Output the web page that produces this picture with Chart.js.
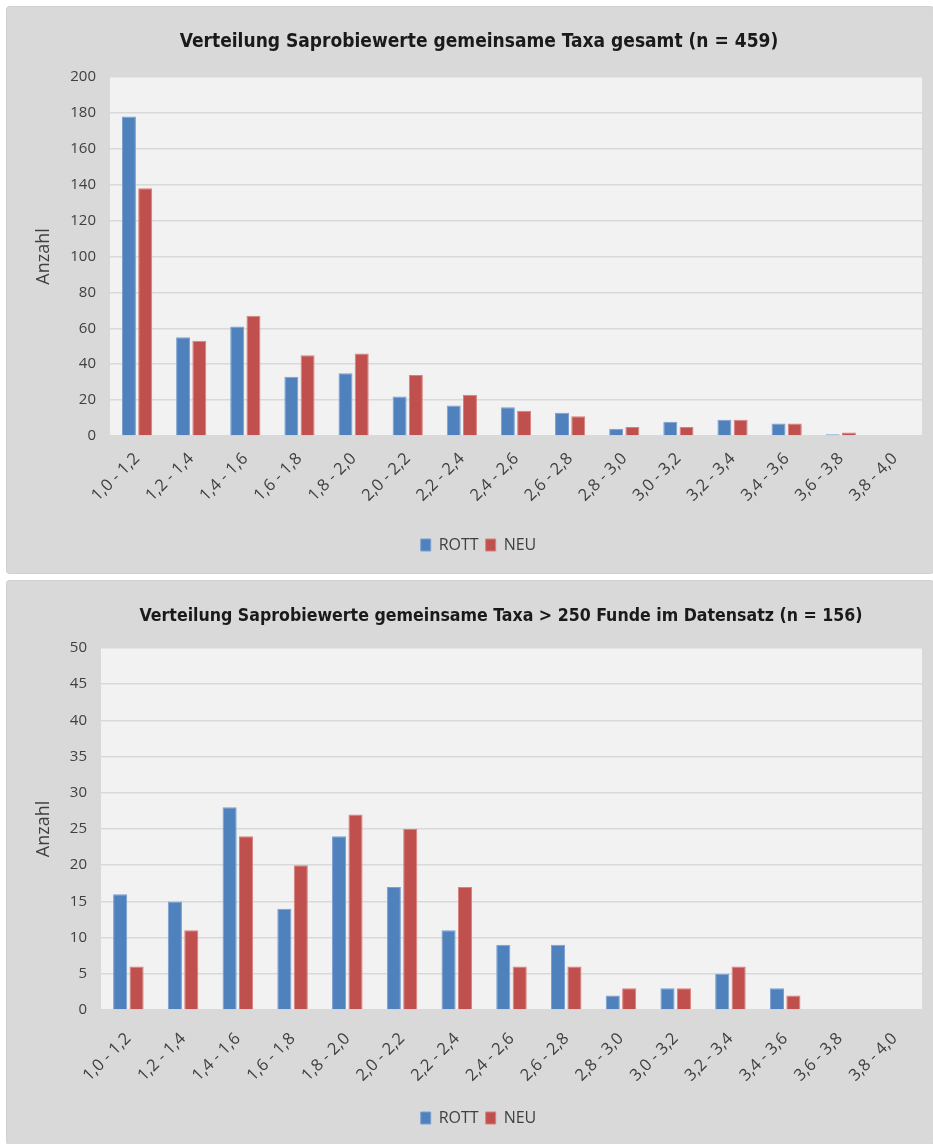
<!DOCTYPE html>
<html>
<head>
<meta charset="utf-8">
<script src="https://cdn.jsdelivr.net/npm/chart.js@4.4.1/dist/chart.umd.min.js"></script>
<style>
  html, body { margin: 0; padding: 0; background: #ffffff; }
  .panel { position: absolute; left: 7px; width: 926px; background: #d9d9d9; border-radius: 3px; box-shadow: 0 0 0 1px #d0d0d0; }
  #p1 { top: 7px; height: 566px; }
  #p2 { top: 581px; height: 563px; }
  canvas { display: block; }
</style>
</head>
<body>
<div class="panel" id="p1"><canvas id="c1" width="926" height="566"></canvas></div>
<div class="panel" id="p2"><canvas id="c2" width="926" height="563"></canvas></div>
<script>
// ---- data ----
const categories = ['1,0 - 1,2', '1,2 - 1,4', '1,4 - 1,6', '1,6 - 1,8', '1,8 - 2,0', '2,0 - 2,2', '2,2 - 2,4', '2,4 - 2,6', '2,6 - 2,8', '2,8 - 3,0', '3,0 - 3,2', '3,2 - 3,4', '3,4 - 3,6', '3,6 - 3,8', '3,8 - 4,0'];
const seriesNames = ['ROTT', 'NEU'];
const rottGesamt = [178, 55, 61, 33, 35, 22, 17, 16, 13, 4, 8, 9, 7, 1, 0];
const neuGesamt  = [138, 53, 67, 45, 46, 34, 23, 14, 11, 5, 5, 9, 7, 2, 0];
const rott250 = [16, 15, 28, 14, 24, 17, 11, 9, 9, 2, 3, 5, 3, 0, 0];
const neu250  = [6, 11, 24, 20, 27, 25, 17, 6, 6, 3, 3, 6, 2, 0, 0];
const title1 = 'Verteilung Saprobiewerte gemeinsame Taxa gesamt (n = 459)';
const title2 = 'Verteilung Saprobiewerte gemeinsame Taxa > 250 Funde im Datensatz (n = 156)';
const yTitle = 'Anzahl';
const yMax1 = 200, yStep1 = 20;
const yMax2 = 50, yStep2 = 5;

// ---- styling ----
const BLUE = '#4f81bd', RED = '#c0504d';
const BLUE_EDGE = '#7b9fd0', RED_EDGE = '#d9807d';
const TEXT = '#404040';
const BODY_FONT = "'Open Sans', 'DejaVu Sans', sans-serif";
const TITLE_FONT = "'Liberation Sans Narrow', 'DejaVu Sans Condensed', 'Roboto', sans-serif";

const plotBg = {
  id: 'plotBg',
  beforeDraw(chart) {
    const a = chart.chartArea, ctx = chart.ctx;
    ctx.save();
    ctx.fillStyle = '#f2f2f2';
    ctx.fillRect(a.left, a.top, a.right - a.left, a.bottom - a.top);
    ctx.restore();
  }
};
const shiftBoxes = {
  id: 'shiftBoxes',
  afterLayout(chart, args, opts) {
    const t = chart.titleBlock, l = chart.legend;
    if (t && opts.title) { t.left += opts.title; t.right += opts.title; }
    if (l && opts.legend) { l.left += opts.legend; l.right += opts.legend; }
  }
};

function makeChart(id, title, rott, neu, yMax, yStep, cfg) {
  return new Chart(document.getElementById(id), {
    type: 'bar',
    data: {
      labels: categories,
      datasets: [
        { label: seriesNames[0], data: rott, backgroundColor: BLUE, borderColor: BLUE_EDGE, borderWidth: 1, categoryPercentage: 0.6, barPercentage: 0.86 },
        { label: seriesNames[1], data: neu, backgroundColor: RED, borderColor: RED_EDGE, borderWidth: 1, categoryPercentage: 0.6, barPercentage: 0.86 }
      ]
    },
    options: {
      responsive: false,
      animation: false,
      devicePixelRatio: 1,
      layout: { padding: { left: 0, right: 11, top: 0, bottom: cfg.padBottom } },
      plugins: {
        title: {
          display: true, text: title, color: '#1a1a1a',
          font: { family: TITLE_FONT, size: cfg.titleSize, weight: 'bold' },
          padding: { top: cfg.titlePadTop, bottom: cfg.titlePadBottom }
        },
        legend: {
          position: 'bottom',
          labels: { boxWidth: 10, boxHeight: 12, padding: 7, color: TEXT, font: { family: BODY_FONT, size: 16 } }
        },
        tooltip: { enabled: false },
        shiftBoxes: { title: cfg.titleShift, legend: 14 }
      },
      scales: {
        x: {
          grid: { display: false },
          border: { display: false },
          ticks: { color: TEXT, font: { family: BODY_FONT, size: 16.5 }, minRotation: 45, maxRotation: 45, autoSkip: false, padding: cfg.xPad },
          afterFit(s) { s.height = cfg.xHeight; }
        },
        y: {
          min: 0, max: yMax,
          ticks: { stepSize: yStep, color: TEXT, font: { family: BODY_FONT, size: 15 }, padding: 14 },
          grid: { color: '#d9d9d9', lineWidth: 1.5, drawTicks: false },
          border: { display: false },
          title: { display: true, text: yTitle, color: TEXT, font: { family: BODY_FONT, size: 18 }, padding: { top: 26.2, bottom: 0 } },
          afterFit(s) { s.width = cfg.yWidth; }
        }
      }
    },
    plugins: [plotBg, shiftBoxes]
  });
}

// title heights: top chart 70 px, bottom chart 67 px (font line height = 1.2 * size)
makeChart('c1', title1, rottGesamt, neuGesamt, yMax1, yStep1,
  { padBottom: 10, titleSize: 19, titlePadTop: 23.6, titlePadBottom: 23.6, titleShift: 14.5, xHeight: 94, yWidth: 103, xPad: 5 });
makeChart('c2', title2, rott250, neu250, yMax2, yStep2,
  { padBottom: 8, titleSize: 17.6, titlePadTop: 24.4, titlePadBottom: 21.5, titleShift: 36.5, xHeight: 93, yWidth: 94, xPad: 11 });
</script>
</body>
</html>
